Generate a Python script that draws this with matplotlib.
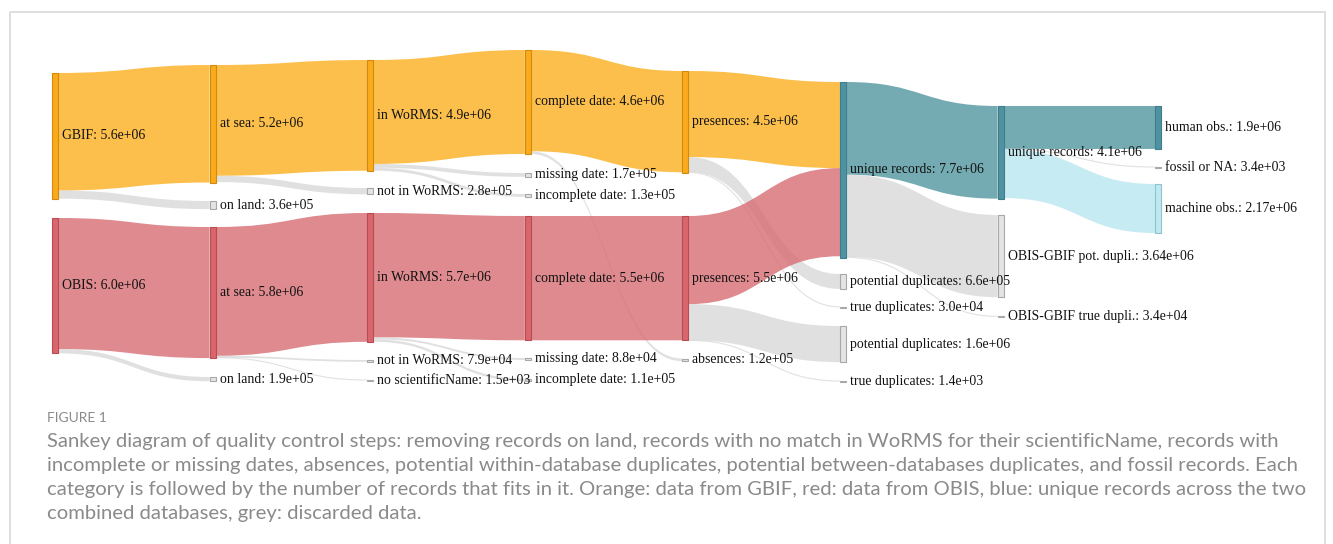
import numpy as np
import matplotlib.pyplot as plt
from matplotlib.path import Path
from matplotlib.patches import PathPatch, Rectangle

# ---- data ----
node_labels = [
    "GBIF: 5.6e+06", "OBIS: 6.0e+06",
    "at sea: 5.2e+06", "on land: 3.6e+05", "at sea: 5.8e+06", "on land: 1.9e+05",
    "in WoRMS: 4.9e+06", "not in WoRMS: 2.8e+05", "in WoRMS: 5.7e+06",
    "not in WoRMS: 7.9e+04", "no scientificName: 1.5e+03",
    "complete date: 4.6e+06", "missing date: 1.7e+05", "incomplete date: 1.3e+05",
    "complete date: 5.5e+06", "missing date: 8.8e+04", "incomplete date: 1.1e+05",
    "presences: 4.5e+06", "presences: 5.5e+06", "absences: 1.2e+05",
    "unique records: 7.7e+06", "potential duplicates: 6.6e+05", "true duplicates: 3.0e+04",
    "potential duplicates: 1.6e+06", "true duplicates: 1.4e+03",
    "unique records: 4.1e+06", "OBIS-GBIF pot. dupli.: 3.64e+06", "OBIS-GBIF true dupli.: 3.4e+04",
    "human obs.: 1.9e+06", "fossil or NA: 3.4e+03", "machine obs.: 2.17e+06",
]
node_group = [
    "gbif", "obis",
    "gbif", "grey", "obis", "grey",
    "gbif", "grey", "obis", "grey", "grey",
    "gbif", "grey", "grey", "obis", "grey", "grey",
    "gbif", "obis", "grey",
    "blue", "grey", "grey", "grey", "grey",
    "blue", "grey", "grey",
    "blue", "grey", "light",
]

link_source = [0, 0, 1, 1,
               2, 2, 4, 4, 4,
               6, 6, 6, 8, 8, 8,
               11, 11, 14,
               17, 17, 17, 18, 18, 18,
               20, 20, 20,
               25, 25, 25]
link_target = [2, 3, 4, 5,
               6, 7, 8, 9, 10,
               11, 12, 13, 14, 15, 16,
               17, 19, 18,
               20, 21, 22, 20, 23, 24,
               25, 26, 27,
               28, 29, 30]
link_value = [5.2e6, 3.6e5, 5.8e6, 1.9e5,
              4.9e6, 2.8e5, 5.7e6, 7.9e4, 1.5e3,
              4.6e6, 1.7e5, 1.3e5, 5.5e6, 8.8e4, 1.1e5,
              4.48e6, 1.2e5, 5.5e6,
              3.81e6, 6.6e5, 3.0e4, 3.9e6, 1.6e6, 1.4e3,
              4.1e6, 3.64e6, 3.4e4,
              1.9e6, 3.4e3, 2.17e6]
link_group = ["gbif", "grey", "obis", "grey",
              "gbif", "grey", "obis", "grey", "grey",
              "gbif", "grey", "grey", "obis", "grey", "grey",
              "gbif", "grey", "obis",
              "gbif", "grey", "grey", "obis", "grey", "grey",
              "blue", "grey", "grey",
              "blue", "grey", "light"]

caption_title = "FIGURE 1"
caption_lines = [
    "Sankey diagram of quality control steps: removing records on land, records with no match in WoRMS for their scientificName, records with",
    "incomplete or missing dates, absences, potential within-database duplicates, potential between-databases duplicates, and fossil records. Each",
    "category is followed by the number of records that fits in it. Orange: data from GBIF, red: data from OBIS, blue: unique records across the two",
    "combined databases, grey: discarded data.",
]

# ---- layout (pixel-like units, y down) ----
node_col = [0, 0, 1, 1, 1, 1, 2, 2, 2, 2, 2, 3, 3, 3, 3, 3, 3, 4, 4, 4,
            5, 5, 5, 5, 5, 6, 6, 6, 7, 7, 7]
node_top = [73, 218, 65, 201, 227, 377, 60, 188, 213, 360, 380,
            50, 173, 194, 216, 358, 378.5, 71, 216, 358.5,
            82, 274, 306.5, 326, 381, 106, 215, 316, 106, 167, 184]
x0, dx, nw = 52, 157.6, 6
px_per_rec = 22.6 / 1e6
min_h = 1.2

node_fill = {"gbif": "#fbaa1c", "obis": "#d9666c", "blue": "#4f93a2",
             "light": "#bfe8f0", "grey": "#e4e4e4"}
node_edge = {"gbif": "#d08a10", "obis": "#b84c52", "blue": "#3f7d8b",
             "light": "#8fc3cf", "grey": "#a8a8a8"}
link_color = {"gbif": ("#fcb01f", 0.8), "obis": ("#d66d72", 0.8),
              "blue": ("#51969f", 0.8), "light": ("#bae6ef", 0.8),
              "grey": ("#c8c8c8", 0.55)}

n = len(node_labels)
out_sum = np.zeros(n)
in_sum = np.zeros(n)
for s, t, v in zip(link_source, link_target, link_value):
    out_sum[s] += v
    in_sum[t] += v
node_h = np.maximum(np.maximum(out_sum, in_sum) * px_per_rec, min_h)
node_x = [x0 + c * dx for c in node_col]

fig = plt.figure(figsize=(13.33, 5.44), dpi=100)
ax = fig.add_axes([0, 0, 1, 1])
ax.set_xlim(0, 1333)
ax.set_ylim(544, 0)
ax.axis("off")

# frame
ax.add_patch(Rectangle((10, 12), 1315, 560, fill=False, ec="#d9d9d9", lw=1.2))

# links
out_off = np.zeros(n)
in_off = np.zeros(n)
for s, t, v, g in zip(link_source, link_target, link_value, link_group):
    w = v * px_per_rec
    xs = node_x[s] + nw
    xt = node_x[t]
    ys = node_top[s] + out_off[s]
    yt = node_top[t] + in_off[t]
    out_off[s] += w
    in_off[t] += w
    xm = (xs + xt) / 2
    col, a = link_color[g]
    if w >= 0.8:
        verts = [(xs, ys), (xm, ys), (xm, yt), (xt, yt),
                 (xt, yt + w), (xm, yt + w), (xm, ys + w), (xs, ys + w), (xs, ys)]
        codes = [Path.MOVETO, Path.CURVE4, Path.CURVE4, Path.CURVE4,
                 Path.LINETO, Path.CURVE4, Path.CURVE4, Path.CURVE4, Path.CLOSEPOLY]
        ax.add_patch(PathPatch(Path(verts, codes), fc=col, ec="none", alpha=a, zorder=1))
    else:
        verts = [(xs, ys + w / 2), (xm, ys + w / 2), (xm, yt + w / 2), (xt, yt + w / 2)]
        codes = [Path.MOVETO, Path.CURVE4, Path.CURVE4, Path.CURVE4]
        ax.add_patch(PathPatch(Path(verts, codes), fc="none", ec=col, lw=0.8,
                               alpha=a, zorder=1))

# nodes and labels
for i in range(n):
    g = node_group[i]
    ax.add_patch(Rectangle((node_x[i], node_top[i]), nw, node_h[i],
                           fc=node_fill[g], ec=node_edge[g], lw=0.8, zorder=3))
    ax.text(node_x[i] + nw + 4, node_top[i] + node_h[i] / 2, node_labels[i],
            ha="left", va="center", fontsize=9.9, family="Liberation Serif",
            color="#111111", zorder=4)

# caption (font size fitted so the widest line spans the frame width)
cap_font = "Lato"
ax.text(47, 418, caption_title, ha="left", va="center", fontsize=10,
        family=cap_font, color="#8a8a8a")
cap_texts = []
for k, line in enumerate(caption_lines):
    cap_texts.append(ax.text(47, 441 + 24 * k, line, ha="left", va="center",
                             fontsize=12, family=cap_font, color="#8a8a8a"))
renderer = fig.canvas.get_renderer()
w_max = max(t.get_window_extent(renderer).width for t in cap_texts)
fs = 12 * 1258 / w_max
for t in cap_texts:
    t.set_fontsize(fs)

fig.savefig("out.png", dpi=100)
